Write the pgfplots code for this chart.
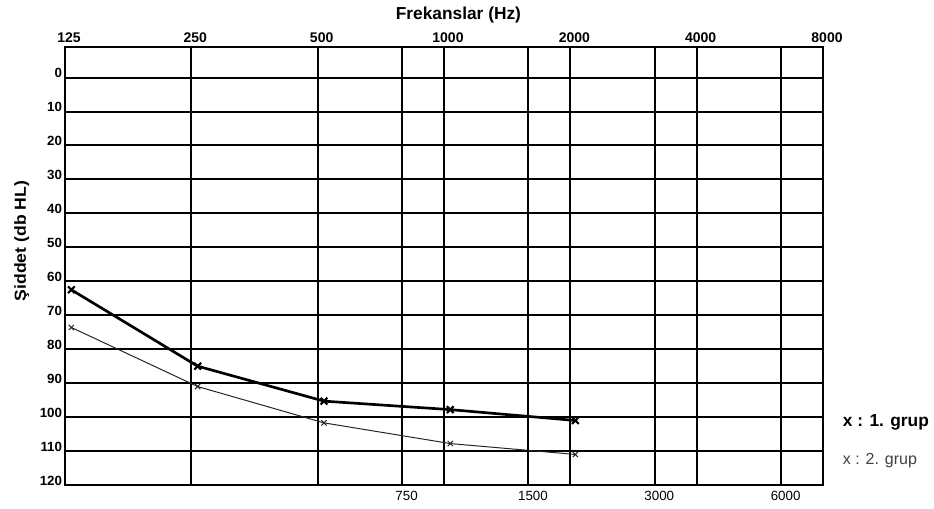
\documentclass[border=0pt]{standalone}
\usepackage{fontspec}
\setmainfont{Liberation Sans}
\usepackage{pgfplots}
\pgfplotsset{compat=1.18}
\begin{document}
\begin{tikzpicture}
\useasboundingbox (-48.75pt,-18pt) rectangle (651.75pt,363.75pt);
\begin{axis}[
  at={(0,0)}, anchor=south west,
  scale only axis, width=568.5pt, height=328.5pt,
  xmin=0, xmax=6, ymin=-9, ymax=120, y dir=reverse,
  xtick={0,1,2,3,4,5,6},
  xticklabels={125,250,500,1000,2000,4000,8000},
  xticklabel pos=upper,
  minor xtick={2.667,3.667,4.667,5.667},
  ytick={0,10,...,120},
  xmajorgrids, xminorgrids, ymajorgrids,
  major grid style={black, line width=1.5pt},
  minor grid style={black, line width=1.4pt},
  axis line style={black, line width=1.6pt},
  major tick length=0pt, minor tick length=0pt,
  tick style={draw=none},
  /pgf/number format/assume math mode=true,
  xticklabel style={font=\fontsize{10.5}{12}\selectfont\bfseries, xshift=3pt},
  yticklabel style={font=\fontsize{10}{12}\selectfont\bfseries, yshift=3.3pt, inner sep=2pt},
  clip=false,
]
\addplot[black, line width=2pt, mark=x, mark size=3.6pt, mark options={solid, line width=1.6pt}]
  coordinates {(0.05,62.5) (1.05,85) (2.05,95.3) (3.05,97.8) (4.04,101)};
\addplot[black!85, line width=0.75pt, mark=x, mark size=2.8pt, mark options={solid, line width=0.75pt}]
  coordinates {(0.05,73.6) (1.05,91) (2.05,101.7) (3.05,107.8) (4.04,111)};
\node[anchor=center, font=\fontsize{13}{15}\selectfont\bfseries] at (axis description cs:0.519,1.073) {Frekanslar (Hz)};
\node[anchor=center, rotate=90, font=\fontsize{12}{14}\selectfont\bfseries] at (axis description cs:-0.057,0.557) {\scalebox{1.1}[1]{Şiddet (db HL)}};
\node[anchor=west, font=\fontsize{13}{15}\selectfont\bfseries] at (axis description cs:1.02,0.144) {x : 1. grup};
\node[anchor=west, font=\fontsize{12}{14}\selectfont, text=black!75] at (axis description cs:1.02,0.055) {x : 2. grup};
\end{axis}
\begin{axis}[
  at={(0,0)}, anchor=south west,
  scale only axis, width=568.5pt, height=328.5pt,
  xmin=0, xmax=6, ymin=0, ymax=1,
  xtick={2.667,3.667,4.667,5.667},
  xticklabels={750,1500,3000,6000},
  ytick=\empty,
  axis line style={draw=none},
  tick style={draw=none},
  major tick length=0pt,
  xticklabel style={font=\fontsize{10}{12}\selectfont, xshift=3.5pt, yshift=-1pt},
]
\end{axis}
\end{tikzpicture}
\end{document}
